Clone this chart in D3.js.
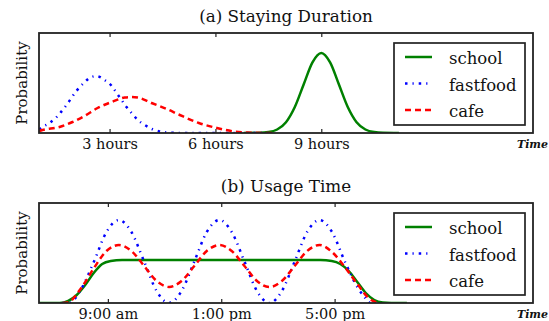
<!DOCTYPE html>
<html>
<head>
<meta charset="utf-8">
<script src="https://cdn.jsdelivr.net/npm/d3@7"></script>
<style>
body { margin: 0; background: #fff; }
svg text { font-family: "DejaVu Serif", serif; fill: #111; }
</style>
</head>
<body>
<svg id="chart" width="549" height="321"></svg>
<script>
// (a) staying duration, [hours, probability]
var durSchool = [[6.8,0],[7.25,0.002],[7.5,0.009],[7.75,0.035],[8,0.108],[8.25,0.26],[8.5,0.485],[8.75,0.706],[9,0.80],
  [9.25,0.706],[9.5,0.485],[9.75,0.26],[10,0.108],[10.25,0.035],[10.5,0.009],[10.75,0.002],[11.2,0]];
var durFastfood = [[1.0,0.035],[1.1,0.06],[1.3,0.10],[1.5,0.16],[1.6,0.20],[1.8,0.29],[2.06,0.42],[2.3,0.51],[2.43,0.55],
  [2.63,0.57],[2.86,0.53],[3.06,0.47],[3.2,0.40],[3.34,0.33],[3.48,0.26],[3.65,0.19],[3.8,0.13],[4.0,0.08],[4.2,0.04],
  [4.42,0.015],[4.65,0.005],[5.0,0],[7.5,0]];
var durCafe = [[1.0,0.02],[1.1,0.03],[1.58,0.06],[1.95,0.11],[2.29,0.17],[2.66,0.25],[3.06,0.31],[3.43,0.355],[3.62,0.36],
  [3.8,0.355],[4.19,0.30],[4.62,0.24],[4.99,0.18],[5.53,0.10],[6.04,0.05],[6.53,0.015],[7.04,0.003],[7.64,0]];

// (b) usage time, [hour of day, probability]
var useSchool = [[6.57,0],[7.3,0],[7.6,0.02],[7.9,0.08],[8.2,0.18],[8.5,0.30],[8.8,0.39],[9.1,0.42],[9.5,0.43],
  [16.5,0.43],[16.9,0.42],[17.2,0.39],[17.5,0.32],[17.8,0.21],[18.1,0.10],[18.4,0.03],[18.7,0.005],[19.0,0],[19.55,0]];
var useFastfood = [[7.4,0],[7.62,0],[8.06,0.14],[8.51,0.415],[8.95,0.71],[9.39,0.83],[9.83,0.71],[10.28,0.415],[10.72,0.12],
  [11.16,0],[11.6,0.12],[12.05,0.415],[12.49,0.71],[12.93,0.83],[13.37,0.71],[13.82,0.415],[14.26,0.12],
  [14.7,0],[15.14,0.12],[15.59,0.415],[16.03,0.71],[16.47,0.83],[16.91,0.71],[17.36,0.415],[17.8,0.16],[18.24,0]];
var useCafe = [[7.4,0],[7.62,0.01],[8.06,0.15],[8.51,0.35],[8.95,0.52],[9.39,0.58],[9.83,0.52],[10.28,0.37],[10.72,0.22],
  [11.16,0.16],[11.6,0.22],[12.05,0.37],[12.49,0.52],[12.93,0.58],[13.37,0.52],[13.82,0.37],[14.26,0.22],
  [14.7,0.16],[15.14,0.22],[15.59,0.37],[16.03,0.52],[16.47,0.58],[16.91,0.51],[17.36,0.36],[17.8,0.19],[18.24,0.04],[18.6,0]];

var names = ["school", "fastfood", "cafe"];
var durTicks = [3, 6, 9], durLabels = ["3 hours", "6 hours", "9 hours"];
var useTicks = [9, 13, 17], useLabels = ["9:00 am", "1:00 pm", "5:00 pm"];

var styles = {
  school:   {color: "#008000", dash: null},
  fastfood: {color: "#0000ff", dash: "2.5,5,1.2,5"},
  cafe:     {color: "#ff0000", dash: "6,4"}
};

var svg = d3.select("#chart");
var left = 39, right = 533;

function panel(id, top, title, domain, ticks, labels, series) {
  var bottom = top + 100;
  var x = d3.scaleLinear().domain(domain).range([left, right]);
  var y = d3.scaleLinear().domain([0, 1]).range([bottom, top]);

  svg.append("text")
     .attr("x", 286).attr("y", top - 11)
     .attr("text-anchor", "middle")
     .style("font-size", "16.8px")
     .text(title);

  svg.append("clipPath").attr("id", id)
     .append("rect").attr("x", left).attr("y", top).attr("width", right - left).attr("height", 100);

  var line = d3.line()
     .x(function(d) { return x(d[0]); })
     .y(function(d) { return y(d[1]); })
     .curve(d3.curveMonotoneX);

  var g = svg.append("g").attr("clip-path", "url(#" + id + ")");
  for (var i = 0; i < series.length; i++) {
    var st = styles[names[i]];
    g.append("path")
     .attr("d", line(series[i]))
     .attr("fill", "none")
     .attr("stroke", st.color)
     .attr("stroke-width", 2.5)
     .attr("stroke-dasharray", st.dash);
  }

  var ax = svg.append("g")
     .attr("transform", "translate(0," + bottom + ")")
     .call(d3.axisBottom(x).tickValues(ticks)
       .tickFormat(function(d, i) { return labels[i]; })
       .tickSize(-4).tickPadding(6));
  ax.select(".domain").remove();
  ax.selectAll("text").style("font-size", "14.5px").attr("fill", "#111");
  ax.selectAll("line").attr("stroke", "#222").attr("stroke-width", 1.2);

  var at = svg.append("g")
     .attr("transform", "translate(0," + top + ")")
     .call(d3.axisTop(x).tickValues(ticks).tickFormat("").tickSize(-4));
  at.select(".domain").remove();
  at.selectAll("line").attr("stroke", "#222").attr("stroke-width", 1.2);

  svg.append("rect")
     .attr("x", left).attr("y", top)
     .attr("width", right - left).attr("height", 100)
     .attr("fill", "none").attr("stroke", "#222").attr("stroke-width", 1.8);

  svg.append("text")
     .attr("transform", "translate(27," + (top + 50) + ") rotate(-90)")
     .attr("text-anchor", "middle")
     .style("font-size", "15px")
     .text("Probability");

  svg.append("text")
     .attr("x", 517).attr("y", bottom + 15)
     .style("font-size", "11px").style("font-style", "italic").style("font-weight", "bold")
     .text("Time");

  // legend
  var lg = svg.append("g").attr("transform", "translate(394," + (top + 10) + ")");
  lg.append("rect")
    .attr("width", 131).attr("height", 82)
    .attr("fill", "#fff").attr("stroke", "#222").attr("stroke-width", 1.7);
  names.forEach(function(n, i) {
    var ly = 14 + i * 26.5;
    lg.append("line")
      .attr("x1", 11).attr("x2", 38).attr("y1", ly).attr("y2", ly)
      .attr("stroke", styles[n].color).attr("stroke-width", 2.5)
      .attr("stroke-dasharray", styles[n].dash);
    lg.append("text")
      .attr("x", 55).attr("y", ly + 7)
      .style("font-size", "16.5px")
      .text(n);
  });
}

panel("clipA", 33, "(a) Staying Duration", [1, 15], durTicks, durLabels, [durSchool, durFastfood, durCafe]);
panel("clipB", 203, "(b) Usage Time", [6.57, 24], useTicks, useLabels, [useSchool, useFastfood, useCafe]);
</script>
</body>
</html>
